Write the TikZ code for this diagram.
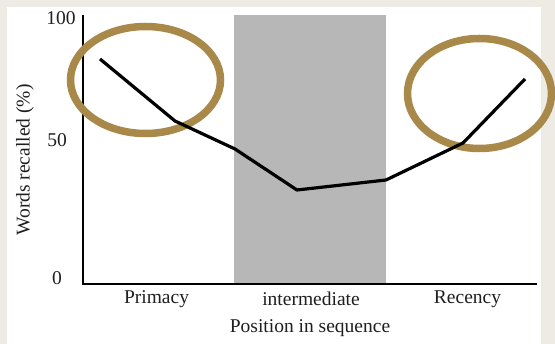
\documentclass[tikz,border=0pt]{standalone}
\usepackage{fontspec}
\usetikzlibrary{shapes.geometric}
\setmainfont{Liberation Serif}
\definecolor{beige}{RGB}{238,235,228}
\definecolor{panel}{RGB}{183,183,183}
\definecolor{gold}{RGB}{168,137,74}
\begin{document}
\begin{tikzpicture}[x=1pt,y=-1pt,
  lbl/.style={font=\fontsize{19.5}{22}\selectfont, inner sep=0pt, text=black!88},
  axisline/.style={line width=2.8pt, black},
  dataline/.style={line width=3.2pt, black, line join=round},
  ring/.style={draw=gold, line width=7.5pt}]
\useasboundingbox (0,0) rectangle (555,344);
\fill[beige] (0,0) rectangle (555,344);
\fill[white] (7,7) rectangle (541,344);
% shaded intermediate region
\fill[panel] (234,15) rectangle (386,284);
% axes
\coordinate (ytop) at (83,15);
\coordinate (orig) at (83,284);
\coordinate (xend) at (537,284);
\draw[axisline] (ytop) -- (orig) -- (xend);
% tick labels
\node[lbl] (t100) at (61,18) {100};
\node[lbl] (t50) at (57,140) {50};
\node[lbl] (t0) at (57,278) {0};
% category labels
\node[lbl] (prim) at (156.5,299) {Primacy};
\node[lbl] (inter) at (311,299) {intermediate};
\node[lbl] (rec) at (467.5,299) {Recency};
\node[lbl] (xlab) at (310,328) {Position in sequence};
\node[lbl, rotate=90] (ylab) at (25,160) {Words recalled (\%)};
% ellipses
\node[ring, ellipse, minimum width=150pt, minimum height=107pt, inner sep=0pt] (e1) at (145.5,80) {};
\node[ring, ellipse, minimum width=144pt, minimum height=110pt, inner sep=0pt] (e2) at (479.5,93.5) {};
% data
\coordinate (p1) at (100,59);
\coordinate (p2) at (175,121);
\coordinate (p3) at (235,149);
\coordinate (p4) at (297,190);
\coordinate (p5) at (386,180);
\coordinate (p6) at (463,143);
\coordinate (p7) at (525,79);
\draw[dataline] (p1) -- (p2) -- (p3) -- (p4) -- (p5) -- (p6) -- (p7);
\end{tikzpicture}
\end{document}
